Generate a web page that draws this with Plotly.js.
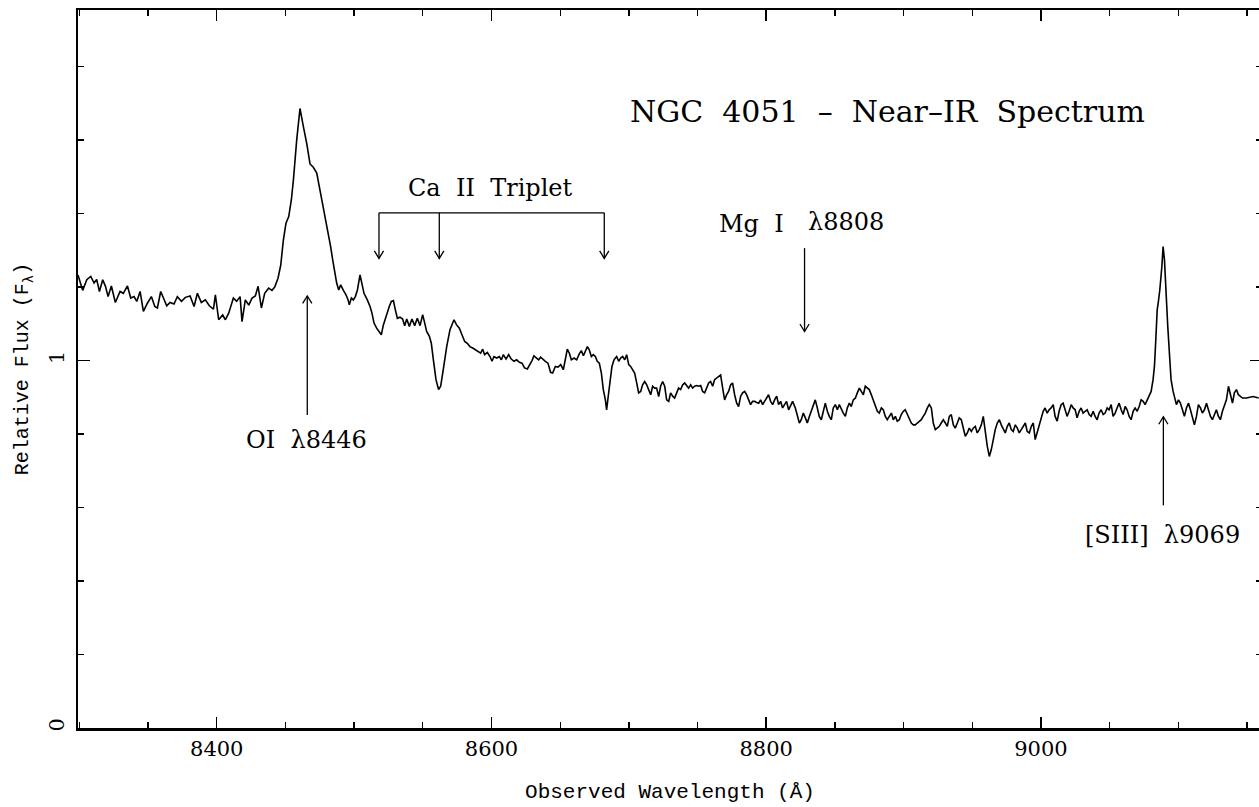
<!DOCTYPE html>
<html>
<head>
<meta charset="utf-8">
<script src="https://cdn.plot.ly/plotly-3.0.1.min.js"></script>
<style>
html,body{margin:0;padding:0;overflow:hidden;background:#fff;}
#chart{width:1264px;height:807px;}
</style>
</head>
<body>
<div id="chart"></div>
<script>
// ---------- spectrum data (observed wavelength in Angstrom, relative flux) ----------
const wl1 = [8299,8302.4,8305.4,8308.3,8310.7,8312.6,8314.6,8317.0,8319.0,8320.9,8323.3,8326.2,8329.6,8332.0,8335.0,8337.4,8339.8,8341.8,8344.2,8346.6,8349.5,8352.4,8354.9,8356.8,8359.2,8361.6,8363.6,8366.0,8368.9,8371.3,8374.3,8377.2,8380.6,8383.5,8385.9,8388.8,8391.7,8394.6,8397.6,8399.0,8401.4,8404.3,8406.3,8408.7,8412.1,8414.5,8417.0,8418.4,8420.8,8423.3,8425.7,8428.1,8430.1,8432.5,8434.9,8437.8,8440.2,8442.2,8444.6,8446.6,8448.5,8450.4,8452.4,8454.3,8455.8,8458.2,8460.6,8463.1,8465.5];
const flux1 = [1.233,1.191,1.220,1.229,1.211,1.221,1.188,1.220,1.202,1.174,1.203,1.158,1.188,1.183,1.203,1.170,1.174,1.161,1.188,1.134,1.156,1.174,1.147,1.143,1.188,1.165,1.149,1.158,1.154,1.174,1.161,1.172,1.176,1.147,1.183,1.158,1.165,1.149,1.140,1.179,1.111,1.124,1.111,1.129,1.170,1.161,1.174,1.106,1.165,1.151,1.170,1.176,1.202,1.143,1.183,1.197,1.191,1.200,1.224,1.260,1.328,1.374,1.392,1.437,1.491,1.600,1.686,1.636,1.591];

const wl2 = [8467.9,8470.3,8472.8,8475.2,8476.6,8478.1,8480.0,8481.5,8482.9,8484.4,8485.9,8487.3,8488.8,8490.2,8492.2,8494.1,8495.6,8496.5,8498.0,8499.4,8500.9,8502.4,8504.3,8505.7,8507.2,8509.6,8511.6,8513.0,8514.5,8516.4,8518.4,8519.8,8521.3,8522.7,8524.2,8525.6,8527.1,8528.6,8530.0,8531.5,8533.4,8535.3,8536.8,8538.3,8540.2,8542.1,8544.1,8546.0,8548.0,8549.9,8551.4,8552.8,8554.8,8556.2,8557.7,8559.6,8561.5,8563.0,8564.9,8567.4,8569.8,8572.7,8574.6,8576.6,8578.5,8580.5,8582.4,8584.3,8586.3,8588.2,8590.2,8592.1,8593.6,8595.0,8597.0,8598.9,8600.4,8601.8,8603.8,8605.7,8607.2,8608.6,8610.6,8612.5,8614.4,8616.4,8618.3,8620.3,8622.2,8624.1,8626.1,8628.0,8629.5,8630.9,8632.9,8634.3,8635.8,8637.7,8639.2,8641.1];
const flux2 = [1.535,1.526,1.510,1.464,1.437,1.401,1.365,1.337,1.310,1.274,1.238,1.211,1.192,1.206,1.191,1.179,1.165,1.152,1.170,1.165,1.174,1.192,1.233,1.211,1.183,1.165,1.147,1.129,1.102,1.088,1.079,1.070,1.097,1.115,1.129,1.147,1.161,1.163,1.138,1.115,1.118,1.113,1.095,1.113,1.093,1.113,1.095,1.115,1.095,1.125,1.102,1.079,1.066,1.047,1.002,0.948,0.921,0.930,0.975,1.038,1.084,1.111,1.097,1.088,1.070,1.052,1.047,1.038,1.034,1.029,1.025,1.020,1.031,1.016,1.022,1.011,0.998,1.011,1.007,1.011,1.002,1.016,1.004,1.016,1.004,0.998,1.002,0.995,0.993,0.980,0.977,0.989,1.000,1.013,1.007,1.002,1.009,1.002,0.998,0.993];

const wl3 = [8643.0,8644.5,8646.5,8648.4,8650.4,8652.3,8653.8,8655.2,8656.7,8658.1,8660.1,8662.0,8663.9,8665.4,8666.9,8668.3,8669.8,8671.2,8672.7,8674.1,8675.6,8677.0,8678.5,8680.0,8681.4,8682.9,8683.8,8685.3,8686.3,8687.7,8689.2,8691.1,8692.6,8694.0,8695.5,8697.0,8698.4,8699.9,8701.3,8702.8,8704.2,8705.7,8707.1,8708.6,8710.0,8711.5,8713.0,8714.4,8715.9,8717.3,8718.8,8720.2,8721.7,8723.1,8724.6,8726.1,8727.5,8729.0,8730.4,8731.9,8733.3,8734.8,8736.2,8737.7,8739.2,8740.6,8742.1,8743.5,8745.0,8746.4,8747.9,8749.3,8750.8,8752.3,8753.7,8755.2,8756.6,8758.1,8759.5,8761.0,8762.4,8763.9,8765.4,8766.8,8768.3,8769.7,8771.2,8772.6,8774.1,8775.5,8777.0,8778.5,8779.9,8781.4,8782.8,8784.3,8785.7,8787.2,8788.6,8790.1,8791.6,8793.0,8794.5,8795.9,8797.4,8798.8,8800.3,8801.7,8803.2,8804.7,8806.1,8807.6,8809.0,8810.5,8811.9,8813.4,8814.8,8816.3];
const flux3 = [0.968,0.966,0.984,0.982,0.989,0.975,1.002,1.031,1.020,1.002,1.007,1.002,1.018,1.027,1.013,1.025,1.038,1.029,1.011,1.016,1.011,0.998,0.993,0.966,0.921,0.893,0.866,0.912,0.948,0.984,1.002,1.011,0.998,1.007,1.011,1.002,1.016,0.989,0.984,0.975,0.966,0.939,0.912,0.916,0.934,0.943,0.934,0.921,0.907,0.930,0.925,0.925,0.902,0.930,0.943,0.930,0.893,0.889,0.912,0.903,0.898,0.912,0.925,0.921,0.934,0.939,0.930,0.925,0.934,0.925,0.930,0.932,0.930,0.932,0.916,0.912,0.925,0.939,0.943,0.930,0.948,0.952,0.957,0.961,0.925,0.893,0.907,0.916,0.934,0.939,0.907,0.884,0.875,0.903,0.912,0.916,0.907,0.893,0.880,0.889,0.889,0.886,0.884,0.893,0.880,0.889,0.898,0.907,0.889,0.880,0.893,0.903,0.880,0.889,0.871,0.880,0.889,0.866];

const wl4 = [8819.2,8821.2,8822.6,8824.1,8825.5,8827.0,8828.5,8829.9,8831.4,8832.8,8834.3,8835.7,8837.2,8838.6,8840.1,8841.6,8843.0,8844.5,8845.9,8847.4,8848.8,8850.3,8851.8,8853.2,8854.7,8856.1,8857.6,8859.0,8860.5,8861.9,8863.4,8864.9,8866.3,8867.8,8869.2,8870.7,8872.1,8873.6,8875.0,8876.5,8878.0,8879.4,8880.9,8882.3,8883.8,8885.2,8886.7,8888.1,8889.6,8891.1,8892.5,8894.0,8895.4,8896.9,8898.3,8899.8,8901.2,8902.7,8904.2,8905.6,8907.1,8908.5,8910.0,8911.4,8912.9,8914.3,8915.8,8917.3,8918.7,8920.2,8921.6,8923.1,8924.5,8926.0,8927.4,8928.9,8930.4,8931.8,8933.3,8934.7,8936.2,8937.6,8939.1,8940.5,8942.0,8943.5,8944.9,8946.4,8947.8,8949.3,8950.7,8952.2,8953.6,8955.1,8956.6,8958.0,8959.5,8960.9,8962.4,8963.8,8965.3,8966.7,8968.2,8969.7,8971.1,8972.6,8974.0,8975.5,8976.9,8978.4,8979.8,8981.3,8982.8,8984.2,8985.7,8987.1,8988.6,8990.0,8991.5,8993.0,8994.4];
const flux4 = [0.889,0.871,0.848,0.830,0.839,0.857,0.844,0.830,0.848,0.862,0.880,0.893,0.871,0.848,0.839,0.866,0.884,0.862,0.848,0.839,0.871,0.880,0.866,0.880,0.866,0.857,0.848,0.871,0.884,0.875,0.893,0.898,0.912,0.925,0.916,0.907,0.930,0.925,0.921,0.907,0.893,0.875,0.862,0.857,0.871,0.866,0.848,0.839,0.848,0.857,0.839,0.848,0.835,0.839,0.853,0.862,0.866,0.853,0.839,0.830,0.825,0.825,0.830,0.835,0.839,0.848,0.857,0.871,0.880,0.871,0.830,0.812,0.816,0.821,0.830,0.839,0.830,0.821,0.848,0.853,0.825,0.816,0.830,0.844,0.839,0.816,0.794,0.803,0.816,0.807,0.816,0.821,0.803,0.812,0.825,0.848,0.803,0.767,0.739,0.757,0.785,0.812,0.830,0.839,0.825,0.812,0.803,0.821,0.830,0.812,0.807,0.825,0.816,0.803,0.812,0.821,0.830,0.807,0.803,0.821,0.830];

const wl5 = [8995.8,8997.2,8998.7,9000.1,9001.6,9003.0,9004.5,9005.9,9007.4,9008.9,9010.3,9011.8,9013.2,9014.7,9016.1,9017.6,9019.0,9020.5,9022.0,9023.4,9024.9,9026.3,9027.8,9029.2,9030.7,9032.2,9033.6,9035.1,9036.5,9038.0,9039.4,9040.9,9042.3,9043.8,9045.3,9046.7,9048.2,9049.6,9051.1,9052.5,9054.0,9055.4,9056.9,9058.4,9059.8,9061.3,9062.7,9064.2,9065.6,9067.1,9068.5,9070.0,9071.5,9072.9,9074.4,9075.8,9077.3,9078.7,9080.2,9081.6,9082.6,9083.6,9084.6,9085.5,9086.5,9088.0,9088.9,9089.9,9090.9,9092.3,9093.8,9094.7,9096.2,9097.2,9098.6,9100.1,9101.5,9103.0,9104.4,9105.9,9107.4,9108.8,9110.3,9111.7,9113.2,9114.6,9116.1,9117.5,9119.0,9120.5,9121.9,9123.4,9124.8,9126.3,9127.7,9129.2,9130.6,9132.1,9133.6,9135.0,9136.5,9137.9,9139.4,9140.8,9142.3,9143.7,9145.2,9146.7,9149.6,9154.4,9158.5];
const flux5 = [0.785,0.803,0.821,0.839,0.862,0.871,0.857,0.866,0.871,0.880,0.848,0.835,0.862,0.880,0.884,0.866,0.848,0.862,0.880,0.871,0.866,0.844,0.862,0.871,0.857,0.862,0.866,0.853,0.848,0.862,0.848,0.839,0.857,0.866,0.853,0.857,0.871,0.866,0.880,0.848,0.857,0.871,0.884,0.866,0.853,0.875,0.866,0.848,0.839,0.862,0.871,0.862,0.875,0.893,0.889,0.880,0.893,0.903,0.916,0.948,0.984,1.057,1.138,1.161,1.192,1.256,1.310,1.274,1.183,1.093,1.002,0.948,0.916,0.903,0.880,0.893,0.884,0.866,0.848,0.871,0.884,0.866,0.848,0.825,0.848,0.880,0.871,0.857,0.866,0.884,0.866,0.848,0.839,0.853,0.866,0.848,0.839,0.862,0.880,0.893,0.930,0.907,0.884,0.912,0.921,0.907,0.903,0.898,0.898,0.902,0.898];

// ---------- line identifications ----------
const caTripletWl = [8518.1, 8562.0, 8682.1];
const caBracketFlux = 1.402, caTipFlux = 1.278;
const mgWl = 8827.9, mgTopFlux = 1.306, mgTipFlux = 1.079;
const oiWl = 8465.9, oiTipFlux = 1.176, oiBottomFlux = 0.852;
const siiiWl = 9089.1, siiiTipFlux = 0.847, siiiBottomFlux = 0.606;

const xRange = [8299, 9160.9];
const yRange = [0, 1.954];

// ---------- build ----------
const wavelength = [].concat(wl1, wl2, wl3, wl4, wl5);
const flux = [].concat(flux1, flux2, flux3, flux4, flux5);

const trace = {
  x: wavelength, y: flux, type: 'scatter', mode: 'lines',
  line: {color: '#000', width: 1.6}, hoverinfo: 'skip', showlegend: false
};

// arrowhead size in data units (~4.6 px half-width, ~7.5 px tall)
const pxPerA = (1262 - 78) / (xRange[1] - xRange[0]);
const pxPerF = 718 / (yRange[1] - yRange[0]);
const hw = 4.6 / pxPerA, hh = 7.5 / pxPerF;
const LW = 1.3;
function seg(x0, y0, x1, y1) {
  return {type: 'line', xref: 'x', yref: 'y', x0: x0, y0: y0, x1: x1, y1: y1, line: {color: '#000', width: LW}};
}
function head(x, y, dir) { // dir = -1 pointing down, +1 pointing up
  const yy = y - dir * hh;
  return {type: 'path', xref: 'x', yref: 'y',
    path: 'M' + (x - hw) + ',' + yy + ' L' + x + ',' + y + ' L' + (x + hw) + ',' + yy,
    line: {color: '#000', width: LW}};
}
const shapes = [];
shapes.push(seg(caTripletWl[0], caBracketFlux, caTripletWl[2], caBracketFlux));
caTripletWl.forEach(w => { shapes.push(seg(w, caBracketFlux, w, caTipFlux)); shapes.push(head(w, caTipFlux, -1)); });
shapes.push(seg(mgWl, mgTopFlux, mgWl, mgTipFlux)); shapes.push(head(mgWl, mgTipFlux, -1));
shapes.push(seg(oiWl, oiBottomFlux, oiWl, oiTipFlux)); shapes.push(head(oiWl, oiTipFlux, 1));
shapes.push(seg(siiiWl, siiiBottomFlux, siiiWl, siiiTipFlux)); shapes.push(head(siiiWl, siiiTipFlux, 1));

const serif = 'DejaVu Serif, Liberation Serif, serif';
const mono = 'Liberation Mono, Courier New, monospace';
const S = '\u00a0';
function label(text, x, y, size) {
  return {text: text, x: x, y: y, xref: 'x', yref: 'y', showarrow: false,
    xanchor: 'center', yanchor: 'middle', font: {family: serif, size: size, color: '#000'}};
}
const annotations = [
  label('NGC' + S + S + '4051' + S + S + '\u2013' + S + S + 'Near\u2013IR' + S + S + 'Spectrum', 8888.3, 1.679, 30),
  label('Ca' + S + S + 'II' + S + S + 'Triplet', 8599.5, 1.470, 24),
  label('Mg' + S + S + 'I', 8789.5, 1.372, 24),
  label('\u03bb8808', 8858.0, 1.377, 24),
  label('OI' + S + S + '\u03bb8446', 8465.5, 0.785, 24),
  label('[SIII]' + S + S + '\u03bb9069', 9088.7, 0.524, 24)
];

const axisCommon = {
  showline: true, linecolor: '#000', linewidth: 2.5, mirror: 'ticks',
  ticks: 'inside', tickcolor: '#000', tickwidth: 1.5,
  showgrid: false, zeroline: false, fixedrange: true
};

const layout = {
  width: 1264, height: 807,
  margin: {l: 78, r: 2, t: 10, b: 79, pad: 0},
  paper_bgcolor: '#fff', plot_bgcolor: '#fff',
  showlegend: false,
  xaxis: Object.assign({}, axisCommon, {
    range: xRange, tickmode: 'linear', tick0: 8400, dtick: 200, ticklen: 11,
    tickfont: {family: serif, size: 21, color: '#000'},
    minor: {tick0: 8300, dtick: 50, ticks: 'inside', ticklen: 6, tickwidth: 1.3, tickcolor: '#000', showgrid: false},
    title: {text: 'Observed Wavelength (\u00c5)', font: {family: mono, size: 21, color: '#000'}, standoff: 24}
  }),
  yaxis: Object.assign({}, axisCommon, {
    range: yRange, tickmode: 'linear', tick0: 0, dtick: 1, ticklen: 12, tickangle: -90,
    ticklabelstandoff: 3,
    tickfont: {family: serif, size: 21, color: '#000'},
    minor: {tick0: 0, dtick: 0.2, ticks: 'inside', ticklen: 6, tickwidth: 1.3, tickcolor: '#000', showgrid: false},
    title: {text: 'Relative Flux (F<sub>\u03bb</sub>)', font: {family: mono, size: 20, color: '#000'}, standoff: 11}
  }),
  shapes: shapes,
  annotations: annotations
};

Plotly.newPlot('chart', [trace], layout, {staticPlot: true, displayModeBar: false});
</script>
</body>
</html>
